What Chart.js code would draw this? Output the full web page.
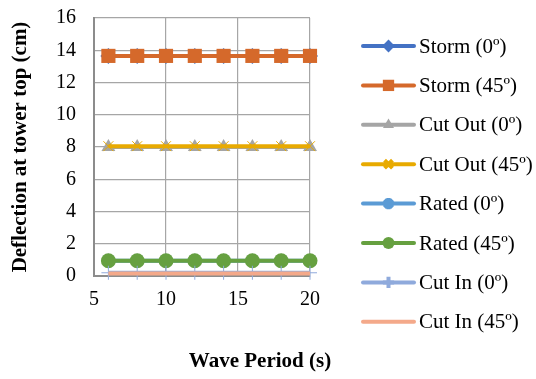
<!DOCTYPE html>
<html>
<head>
<meta charset="utf-8">
<script src="https://cdn.jsdelivr.net/npm/chart.js@4.4.0/dist/chart.umd.min.js"></script>
<style>
  html, body { margin: 0; padding: 0; background: #fff; }
</style>
</head>
<body>
<canvas id="myChart" width="536" height="379"></canvas>
<script>
// wave period (s) and deflection at tower top (cm)
var wavePeriod = [6, 8, 10, 12, 14, 16, 18, 20];
var storm0     = [13.65, 13.65, 13.65, 13.65, 13.65, 13.65, 13.65, 13.65];
var storm45    = [13.65, 13.65, 13.65, 13.65, 13.65, 13.65, 13.65, 13.65];
var cutOut0    = [8.0, 8.0, 8.0, 8.0, 8.0, 8.0, 8.0, 8.0];
var cutOut45   = [8.05, 8.05, 8.05, 8.05, 8.05, 8.05, 8.05, 8.05];
var rated0     = [0.95, 0.95, 0.95, 0.95, 0.95, 0.95, 0.95, 0.95];
var rated45    = [0.95, 0.95, 0.95, 0.95, 0.95, 0.95, 0.95, 0.95];
var cutIn0     = [0.2, 0.2, 0.2, 0.2, 0.2, 0.2, 0.2, 0.2];
var cutIn45    = [0.15, 0.15, 0.15, 0.15, 0.15, 0.15, 0.15, 0.15];
var seriesNames = ['Storm (0\u00BA)', 'Storm (45\u00BA)', 'Cut Out (0\u00BA)', 'Cut Out (45\u00BA)',
                   'Rated (0\u00BA)', 'Rated (45\u00BA)', 'Cut In (0\u00BA)', 'Cut In (45\u00BA)'];
var xTitle = 'Wave Period (s)';
var yTitle = 'Deflection at tower top (cm)';

var serif = "'Liberation Serif', 'Times New Roman', serif";

function pts(vals) {
  return vals.map(function (v, i) { return { x: wavePeriod[i], y: v }; });
}

// colour, marker, marker size, filled marker?
var looks = [
  ['#4472C4', 'rectRot', 8, true],
  ['#D5692B', 'rect', 10, true],
  ['#A5A5A5', 'triangle', 8, true],
  ['#E8AA00', 'crossRot', 7, false],
  ['#5B9BD5', 'star', 7, false],
  ['#66A040', 'circle', 7.5, true],
  ['#8FAADC', 'cross', 7, false],
  ['#F4A98A', 'circle', 0, true]
];
var allVals = [storm0, storm45, cutOut0, cutOut45, rated0, rated45, cutIn0, cutIn45];

var datasets = allVals.map(function (vals, i) {
  var l = looks[i];
  return {
    label: seriesNames[i],
    data: pts(vals),
    borderColor: l[0],
    backgroundColor: l[0],
    borderWidth: 4,
    pointStyle: l[1],
    pointRadius: l[2],
    pointHoverRadius: l[2],
    pointBackgroundColor: l[3] ? l[0] : 'rgba(0,0,0,0)',
    pointBorderColor: l[0],
    pointBorderWidth: l[3] ? 0 : 1,
    tension: 0,
    clip: false,
    order: 10 - i
  };
});

var extras = {
  id: 'extras',
  afterDraw: function (chart) {
    var ctx = chart.ctx;
    ctx.save();
    // x axis title
    ctx.fillStyle = '#000';
    ctx.font = 'bold 21px ' + serif;
    ctx.textAlign = 'center';
    ctx.textBaseline = 'middle';
    ctx.fillText(xTitle, 260, 362);

    // legend
    var y0 = 46, step = 39.4;
    for (var i = 0; i < datasets.length; i++) {
      var y = y0 + i * step;
      var l = looks[i];
      ctx.strokeStyle = l[0];
      ctx.lineWidth = 4;
      ctx.lineCap = 'round';
      ctx.beginPath();
      ctx.moveTo(363, y);
      ctx.lineTo(414, y);
      ctx.stroke();
      if (l[2] > 0) {
        ctx.fillStyle = l[3] ? l[0] : 'rgba(0,0,0,0)';
        ctx.strokeStyle = l[0];
        ctx.lineCap = 'butt';
        Chart.helpers.drawPoint(ctx, {
          pointStyle: l[1],
          radius: l[2] * 0.8,
          rotation: 0,
          borderWidth: l[3] ? 0 : 1
        }, 388.5, y);
      }
      ctx.fillStyle = '#000';
      ctx.font = '21px ' + serif;
      ctx.textAlign = 'left';
      ctx.textBaseline = 'middle';
      ctx.fillText(seriesNames[i], 419, y + 1);
    }
    ctx.restore();
  }
};

var ctx = document.getElementById('myChart');
var myChart = new Chart(ctx, {
  type: 'line',
  data: { datasets: datasets },
  options: {
    responsive: false,
    animation: false,
    layout: { padding: { top: 18, right: 226, bottom: 0, left: 0 } },
    plugins: {
      legend: { display: false },
      tooltip: { enabled: false }
    },
    scales: {
      x: {
        type: 'linear',
        min: 5,
        max: 20,
        ticks: {
          stepSize: 5,
          color: '#000',
          padding: 12,
          maxRotation: 0,
          font: { family: serif, size: 20 }
        },
        grid: { color: '#A6A6A6', lineWidth: 1.2, drawTicks: false },
        border: { color: '#8C8C8C', width: 2 },
        afterFit: function (scale) { scale.height = 103; }
      },
      y: {
        min: 0,
        max: 16,
        ticks: {
          stepSize: 2,
          color: '#000',
          padding: 18,
          font: { family: serif, size: 20 }
        },
        grid: { color: '#A6A6A6', lineWidth: 1.2, drawTicks: false },
        border: { color: '#8C8C8C', width: 2 },
        title: {
          display: true,
          text: yTitle,
          color: '#000',
          padding: { top: 8, bottom: 0 },
          font: { family: serif, size: 21, weight: 'bold' }
        },
        afterFit: function (scale) {
          scale.width = 94;
          scale.paddingTop = 0;
          scale.paddingBottom = 0;
        }
      }
    }
  },
  plugins: [extras]
});
</script>
</body>
</html>
